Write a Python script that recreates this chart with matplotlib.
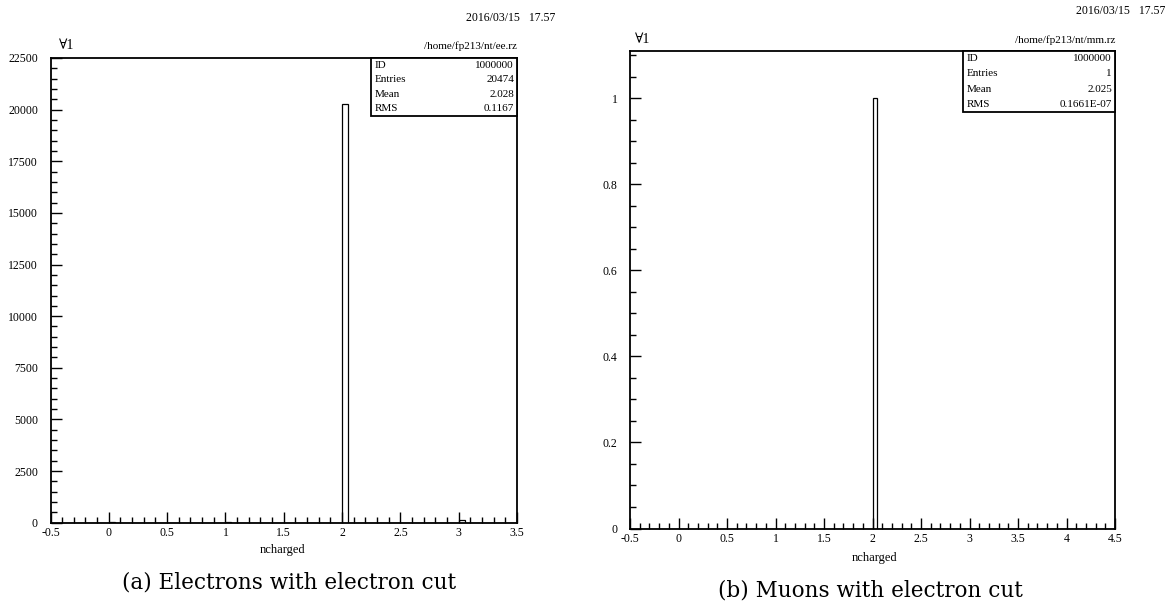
import numpy as np
import matplotlib.pyplot as plt
from matplotlib.ticker import MultipleLocator, FormatStrFormatter

plt.rcParams['axes.unicode_minus'] = False
SERIF = ['Liberation Serif', 'DejaVu Serif']

W, H = 1170, 609

# ncharged histograms, bin width 0.05
ee_edges = np.linspace(-0.5, 3.5, 81)
ee_centers = [0.0, 1.0, 2.0, 3.0]
ee_counts = [20, 49, 20255, 150]

mm_edges = np.linspace(-0.5, 4.5, 101)
mm_centers = [2.0]
mm_counts = [1]

stat_names = ['ID', 'Entries', 'Mean', 'RMS']
ee_stats = ['1000000', '20474', '2.028', '0.1167']
mm_stats = ['1000000', '1', '2.025', '0.1661E-07']

date_stamp = '2016/03/15   17.57'


def fill_bins(edges, centers, counts):
    vals = np.zeros(len(edges) - 1)
    for c, n in zip(centers, counts):
        vals[np.searchsorted(edges, c, side='right') - 1] += n
    return vals


def px(x, y):
    return x / W, 1 - y / H


def axes_at(x0, y0, x1, y1):
    return fig.add_axes([x0 / W, 1 - y1 / H, (x1 - x0) / W, (y1 - y0) / H])


def paw_panel(ax, edges, vals, xlim, ylim, xmaj, ymaj, ymin, yfmt):
    ax.stairs(vals, edges, color='black', lw=0.9)
    ax.set_xlim(*xlim)
    ax.set_ylim(*ylim)
    ax.xaxis.set_major_locator(MultipleLocator(xmaj))
    ax.xaxis.set_minor_locator(MultipleLocator(0.1))
    ax.yaxis.set_major_locator(MultipleLocator(ymaj))
    ax.yaxis.set_minor_locator(MultipleLocator(ymin))
    ax.xaxis.set_major_formatter(FormatStrFormatter('%g'))
    ax.yaxis.set_major_formatter(FormatStrFormatter(yfmt))
    ax.tick_params(which='both', direction='in', top=False, right=False,
                   labelsize=8.5, width=1.0, color='black')
    ax.tick_params(which='major', length=8)
    ax.tick_params(which='minor', length=4.5)
    ax.tick_params(axis='y', pad=9)
    ax.tick_params(axis='x', pad=3)
    for lab in ax.get_xticklabels() + ax.get_yticklabels():
        lab.set_family(SERIF)
    for sp in ax.spines.values():
        sp.set_linewidth(1.3)


def stats_box(ax, names, values, width_px, height_px):
    # box hanging from the top-right corner of the frame
    bb = ax.get_position()
    fx1 = bb.x1
    fy1 = bb.y1
    fw = width_px / W
    fh = height_px / H
    box = plt.Rectangle((fx1 - fw, fy1 - fh), fw, fh, transform=fig.transFigure,
                        fill=True, facecolor='white', edgecolor='black', lw=1.3, zorder=5)
    fig.add_artist(box)
    row_h = fh / len(names)
    for i, (n, v) in enumerate(zip(names, values)):
        yy = fy1 - (i + 0.5) * row_h
        fig.text(fx1 - fw + 4 / W, yy, n, ha='left', va='center', fontsize=8,
                 family=SERIF, zorder=6)
        fig.text(fx1 - 3 / W, yy, v, ha='right', va='center', fontsize=8,
                 family=SERIF, zorder=6)


fig = plt.figure(figsize=(W / 100, H / 100), dpi=100)

# (a) electrons
ax1 = axes_at(50.5, 58, 517, 522.7)
paw_panel(ax1, ee_edges, fill_bins(ee_edges, ee_centers, ee_counts),
          (-0.5, 3.5), (0, 22500), 0.5, 2500, 500, '%g')
stats_box(ax1, stat_names, ee_stats, 146, 58)
fig.text(*px(59, 49), '\u22001', fontsize=10, family=SERIF, ha='left', va='baseline')
fig.text(*px(517, 49), '/home/fp213/nt/ee.rz', fontsize=8, family=SERIF,
         ha='right', va='baseline')
fig.text(*px(555, 21), date_stamp, fontsize=8.5, family=SERIF, ha='right', va='baseline')
fig.text(*px(283, 553), 'ncharged', fontsize=9, family=SERIF, ha='center', va='baseline')
fig.text(*px(289, 589), '(a) Electrons with electron cut', fontsize=15.5,
         family='DejaVu Serif', ha='center', va='baseline')

# (b) muons
ax2 = axes_at(630, 51, 1115, 528.5)
paw_panel(ax2, mm_edges, fill_bins(mm_edges, mm_centers, mm_counts),
          (-0.5, 4.5), (0, 1.11), 0.5, 0.2, 0.05, '%g')
stats_box(ax2, stat_names, mm_stats, 152, 61)
fig.text(*px(635, 43), '\u22001', fontsize=10, family=SERIF, ha='left', va='baseline')
fig.text(*px(1115, 43), '/home/fp213/nt/mm.rz', fontsize=8, family=SERIF,
         ha='right', va='baseline')
fig.text(*px(1165, 14), date_stamp, fontsize=8.5, family=SERIF, ha='right', va='baseline')
fig.text(*px(875, 561), 'ncharged', fontsize=9, family=SERIF, ha='center', va='baseline')
fig.text(*px(870, 596), '(b) Muons with electron cut', fontsize=15.5,
         family='DejaVu Serif', ha='center', va='baseline')

fig.savefig('out.png', dpi=100)
